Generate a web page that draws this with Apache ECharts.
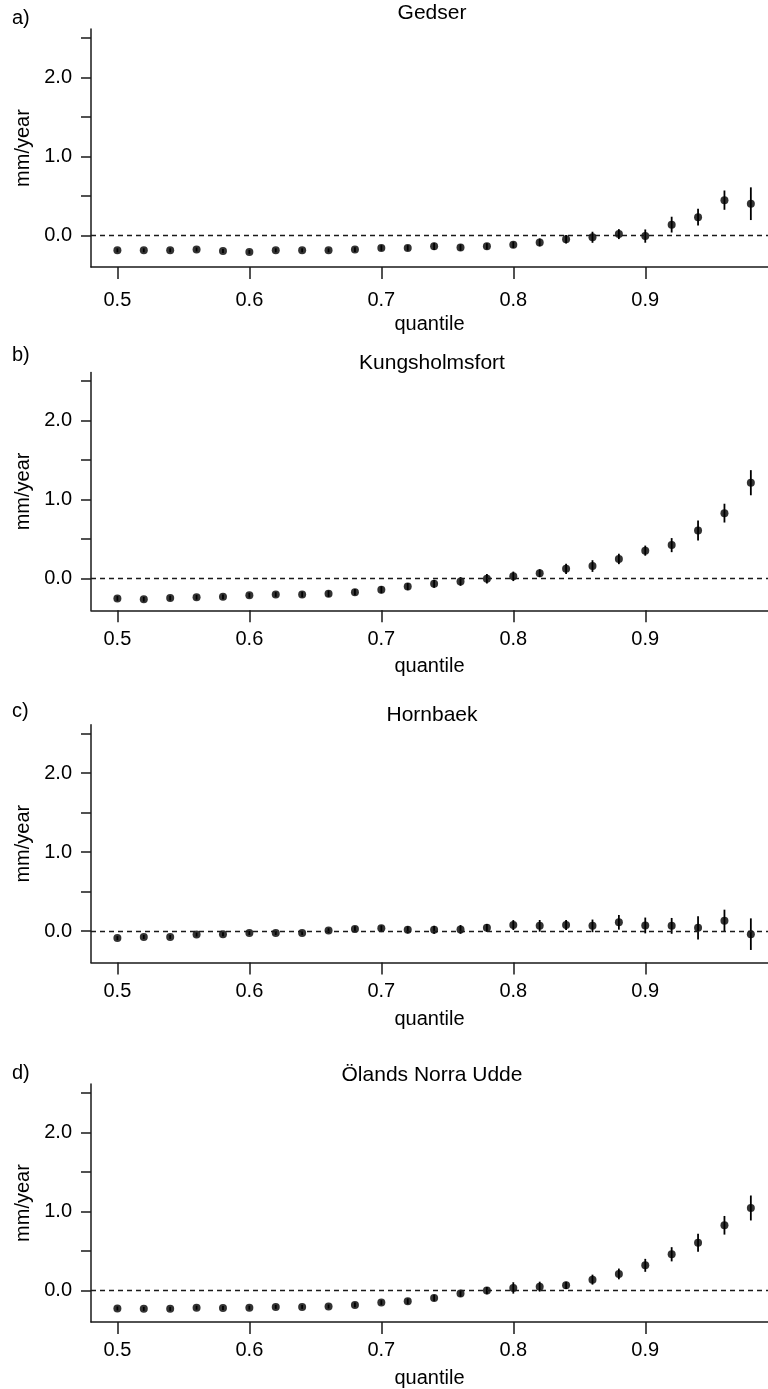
<!DOCTYPE html>
<html>
<head>
<meta charset="utf-8">
<script src="https://cdn.jsdelivr.net/npm/echarts@6/dist/echarts.min.js"></script>
<style>
html,body{margin:0;padding:0;background:#fff;}
#chart{width:768px;height:1389px;}
</style>
</head>
<body>
<div id="chart"></div>
<script>
// ---- data ----
const quantiles = [0.50,0.52,0.54,0.56,0.58,0.60,0.62,0.64,0.66,0.68,0.70,0.72,0.74,0.76,0.78,0.80,0.82,0.84,0.86,0.88,0.90,0.92,0.94,0.96,0.98];
const xTicks = [0.5,0.6,0.7,0.8,0.9];
const yTicks = [0,0.5,1,1.5,2,2.5];
const yLabels = [0,1,2];
const stationNames = ["Gedser","Kungsholmsfort","Hornbaek","Ölands Norra Udde"];
const panelLetters = ["a)","b)","c)","d)"];

const gedserEst = [-0.19,-0.19,-0.19,-0.18,-0.20,-0.21,-0.19,-0.19,-0.19,-0.18,-0.16,-0.16,-0.14,-0.155,-0.14,-0.12,-0.09,-0.05,-0.025,0.015,-0.01,0.135,0.23,0.445,0.40];
const gedserErr = [0.025,0.025,0.025,0.025,0.025,0.025,0.025,0.025,0.025,0.03,0.035,0.035,0.045,0.04,0.04,0.04,0.05,0.055,0.07,0.063,0.084,0.10,0.105,0.122,0.207];

const kungsEst = [-0.25,-0.26,-0.245,-0.235,-0.23,-0.21,-0.20,-0.20,-0.19,-0.17,-0.14,-0.10,-0.065,-0.035,0.0,0.03,0.07,0.125,0.16,0.25,0.355,0.425,0.61,0.83,1.215];
const kungsErr = [0.03,0.03,0.03,0.03,0.03,0.03,0.03,0.035,0.04,0.04,0.045,0.045,0.05,0.055,0.06,0.06,0.05,0.064,0.074,0.066,0.064,0.089,0.127,0.119,0.159];

const hornEst = [-0.09,-0.075,-0.075,-0.045,-0.04,-0.025,-0.025,-0.025,0.005,0.025,0.035,0.015,0.015,0.02,0.04,0.075,0.065,0.075,0.065,0.11,0.07,0.065,0.04,0.13,-0.04];
const hornErr = [0.025,0.025,0.025,0.025,0.025,0.025,0.025,0.025,0.03,0.035,0.035,0.045,0.05,0.055,0.05,0.063,0.074,0.063,0.08,0.093,0.10,0.10,0.148,0.14,0.20];

const olandEst = [-0.23,-0.235,-0.235,-0.22,-0.225,-0.22,-0.21,-0.21,-0.205,-0.185,-0.155,-0.14,-0.097,-0.042,-0.004,0.03,0.046,0.063,0.135,0.207,0.316,0.456,0.603,0.823,1.042];
const olandErr = [0.025,0.025,0.025,0.025,0.025,0.025,0.025,0.025,0.025,0.03,0.03,0.035,0.04,0.04,0.046,0.072,0.063,0.046,0.063,0.068,0.082,0.09,0.114,0.118,0.158];

const estimates = [gedserEst, kungsEst, hornEst, olandEst];
const errors = [gedserErr, kungsErr, hornErr, olandErr];

// ---- layout ----
const FONT = 'Liberation Sans';
const gridTops = [29.1, 372.5, 724.8, 1084.1];
const gridHeight = 237.8;
const titleY = [13, 363, 715, 1075];
const letterY = [18, 355, 711, 1073];
const labelMargins = [24, 19, 19, 19];
const xNameGaps = [48, 46, 47, 47];

const chart = echarts.init(document.getElementById('chart'), null, {renderer:'canvas'});

const grids = [], xAxes = [], yAxes = [], series = [], graphics = [];
for (let p = 0; p < 4; p++) {
  grids.push({left:91, width:677, top:gridTops[p], height:gridHeight, containLabel:false, outerBoundsMode:'none'});
  xAxes.push({
    type:'value', gridIndex:p, min:0.48, max:0.993,
    name:'quantile', nameLocation:'middle', nameGap:xNameGaps[p],
    nameTextStyle:{fontFamily:FONT, fontSize:20, color:'#000'},
    axisLine:{show:true, onZero:false, lineStyle:{color:'#1a1a1a', width:1.5}},
    axisTick:{show:true, length:12, customValues:xTicks, lineStyle:{color:'#1a1a1a', width:1.5}},
    axisLabel:{show:true, customValues:xTicks, margin:labelMargins[p], fontFamily:FONT, fontSize:20, color:'#000',
      formatter:v=>Number(v).toFixed(1)},
    splitLine:{show:false}
  });
  yAxes.push({
    type:'value', gridIndex:p, min:-0.4, max:2.61,
    name:'mm/year', nameLocation:'middle', nameGap:57, nameRotate:90,
    nameTextStyle:{fontFamily:FONT, fontSize:20, color:'#000'},
    axisLine:{show:true, onZero:false, lineStyle:{color:'#1a1a1a', width:1.5}},
    axisTick:{show:true, length:10, customValues:yTicks, lineStyle:{color:'#1a1a1a', width:1.5}},
    axisLabel:{show:true, customValues:yLabels, margin:19, fontFamily:FONT, fontSize:20, color:'#000',
      formatter:v=>Number(v).toFixed(1)},
    splitLine:{show:false}
  });
  const est = estimates[p], err = errors[p];
  series.push({
    type:'custom', xAxisIndex:p, yAxisIndex:p, silent:true,
    encode:{x:0, y:[1,2]},
    data: quantiles.map((q,i)=>[q, est[i]-err[i], est[i]+err[i]]),
    renderItem:(params, api)=>{
      const a = api.coord([api.value(0), api.value(1)]);
      const b = api.coord([api.value(0), api.value(2)]);
      return {type:'line', shape:{x1:a[0], y1:a[1], x2:b[0], y2:b[1]},
        style:{stroke:'#000', lineWidth:1.8}};
    },
    z:2
  });
  series.push({
    type:'scatter', xAxisIndex:p, yAxisIndex:p, silent:true,
    data: quantiles.map((q,i)=>[q, est[i]]),
    symbol:'circle', symbolSize:8,
    itemStyle:{color:'#000'},
    markLine:{silent:true, symbol:'none', label:{show:false},
      lineStyle:{type:[5,4], color:'#1a1a1a', width:1.3},
      data:[{yAxis:0}]},
    z:3
  });
  graphics.push({type:'text', x:432, y:titleY[p],
    style:{text:stationNames[p], font:'21px "Liberation Sans"', fill:'#000', textAlign:'center', textVerticalAlign:'middle'}});
  graphics.push({type:'text', x:12, y:letterY[p],
    style:{text:panelLetters[p], font:'20px "Liberation Sans"', fill:'#000', textAlign:'left', textVerticalAlign:'middle'}});
}

chart.setOption({
  animation:false,
  backgroundColor:'#fff',
  grid:grids, xAxis:xAxes, yAxis:yAxes, series:series, graphic:graphics
});
</script>
</body>
</html>
